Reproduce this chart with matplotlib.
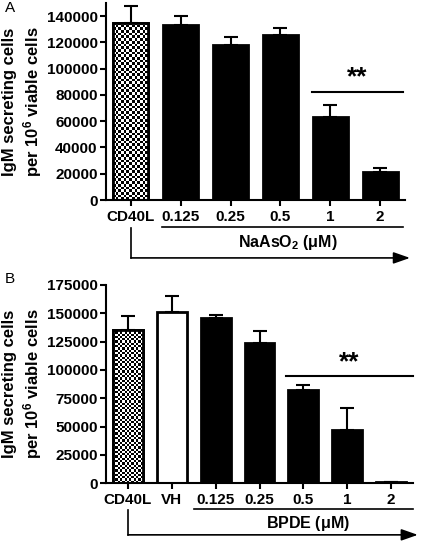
import numpy as np
import matplotlib.pyplot as plt
from matplotlib.patches import FancyArrowPatch

plt.rcParams['font.family'] = ['Liberation Sans', 'DejaVu Sans']
plt.rcParams['font.weight'] = 'bold'
plt.rcParams['mathtext.fontset'] = 'custom'
plt.rcParams['mathtext.rm'] = 'Liberation Sans:bold'
plt.rcParams['mathtext.it'] = 'Liberation Sans:bold'
plt.rcParams['mathtext.bf'] = 'Liberation Sans:bold'

# Panel A: NaAsO2
labels_a = ['CD40L', '0.125', '0.25', '0.5', '1', '2']
means_a = [135000, 133000, 117800, 125400, 63300, 21500]
errs_a = [12800, 6800, 6600, 5800, 9400, 2600]
fills_a = ['check', 'black', 'black', 'black', 'black', 'black']

# Panel B: BPDE
labels_b = ['CD40L', 'VH', '0.125', '0.25', '0.5', '1', '2']
means_b = [135600, 151600, 145800, 123900, 82200, 46600, 1200]
errs_b = [12200, 14000, 2300, 10200, 4700, 19600, 0]
fills_b = ['check', 'white', 'black', 'black', 'black', 'black', 'black']

ylabel = 'IgM secreting cells\nper 10$^6$ viable cells'

fig = plt.figure(figsize=(4.21, 5.42), dpi=100)
ax_a = fig.add_axes([106 / 421, 342 / 542, 299 / 421, 197 / 542])
ax_b = fig.add_axes([106 / 421, 58.7 / 542, 307 / 421, 198.3 / 542])


def draw_panel(ax, labels, means, errs, fills, width, ymax, step, ax_h_px, ax_w_px):
    x = np.arange(len(labels))
    bar_px = width * ax_w_px / len(labels)
    cell = bar_px / 13
    for xi, m, f in zip(x, means, fills):
        face = 'white' if f != 'black' else 'black'
        bar = ax.bar(xi, m, width=width, color=face, edgecolor='black',
                     linewidth=2, zorder=2)[0]
        if f == 'check':
            nrows = int(round(m / ymax * ax_h_px / cell))
            checker = np.indices((nrows, 13)).sum(axis=0) % 2
            im = ax.imshow(checker, cmap='gray', interpolation='nearest',
                           extent=[xi - width / 2, xi + width / 2, 0, m],
                           aspect='auto', zorder=2.5)
            im.set_clip_path(bar)
            ax.bar(xi, m, width=width, color='none', edgecolor='black',
                   linewidth=2, zorder=3)
    ax.errorbar(x, means, yerr=[np.zeros(len(errs)), errs], fmt='none',
                ecolor='black', elinewidth=1.5, capsize=5, capthick=1.5,
                zorder=1)
    ax.set_xlim(-0.5, len(labels) - 0.5)
    ax.set_ylim(0, ymax)
    ax.set_yticks(np.arange(0, ymax + 1, step))
    ax.set_xticks(x)
    ax.set_xticklabels(labels, fontsize=11, fontweight='bold')
    for t in ax.get_yticklabels():
        t.set_fontsize(11)
        t.set_fontweight('bold')
    for s in ['top', 'right']:
        ax.spines[s].set_visible(False)
    for s in ['left', 'bottom']:
        ax.spines[s].set_linewidth(1.5)
    ax.tick_params(direction='out', width=1.5, length=4, pad=2)
    ax.tick_params(axis='x', pad=3)
    ax.set_ylabel(ylabel, fontsize=12, fontweight='bold', linespacing=1.25)
    ax.yaxis.set_label_coords(-62 / ax_w_px, 0.5)


draw_panel(ax_a, labels_a, means_a, errs_a, fills_a, 0.7, 150000, 20000, 197, 299)
draw_panel(ax_b, labels_b, means_b, errs_b, fills_b, 0.68, 175000, 25000, 198.3, 307)

# Significance bars
ax_a.plot([3.63, 5.46], [82300, 82300], color='black', lw=1.5, clip_on=False)
ax_a.text(4.55, 84000, '**', ha='center', va='bottom', fontsize=19,
          fontweight='bold')
ax_b.plot([3.6, 6.5], [94700, 94700], color='black', lw=1.5, clip_on=False)
ax_b.text(5.05, 96500, '**', ha='center', va='bottom', fontsize=19,
          fontweight='bold')


def treatment(ax, x0, x1, y_line, y_text, text, y_arrow, x_end):
    tr = ax.get_xaxis_transform()
    ax.plot([x0, x1], [y_line, y_line], color='black', lw=1.2,
            transform=tr, clip_on=False)
    ax.text((x0 + x1) / 2 + 0.1, y_text, text, transform=tr, ha='center',
            va='center', fontsize=11.5, fontweight='bold')
    ax.plot([0, 0], [y_line - 0.005, y_arrow], color='black', lw=1.2,
            transform=tr, clip_on=False)
    arr = FancyArrowPatch((0, y_arrow), (x_end, y_arrow), transform=tr,
                          arrowstyle='-|>,head_length=10,head_width=3.5',
                          color='black', lw=1.2, clip_on=False,
                          shrinkA=0, shrinkB=0)
    ax.add_patch(arr)


treatment(ax_a, 0.62, 5.46, -0.137, -0.218, 'NaAsO$_2$ ($\\mu$M)', -0.294, 5.6)
treatment(ax_b, 1.51, 6.5, -0.128, -0.205, 'BPDE ($\\mu$M)', -0.26, 6.61)

fig.text(5 / 421, 1 - 8 / 542, 'A', fontsize=11, fontweight='normal',
         va='center', ha='left')
fig.text(5 / 421, 1 - 279 / 542, 'B', fontsize=11, fontweight='normal',
         va='center', ha='left')

fig.savefig('out.png', dpi=100)
